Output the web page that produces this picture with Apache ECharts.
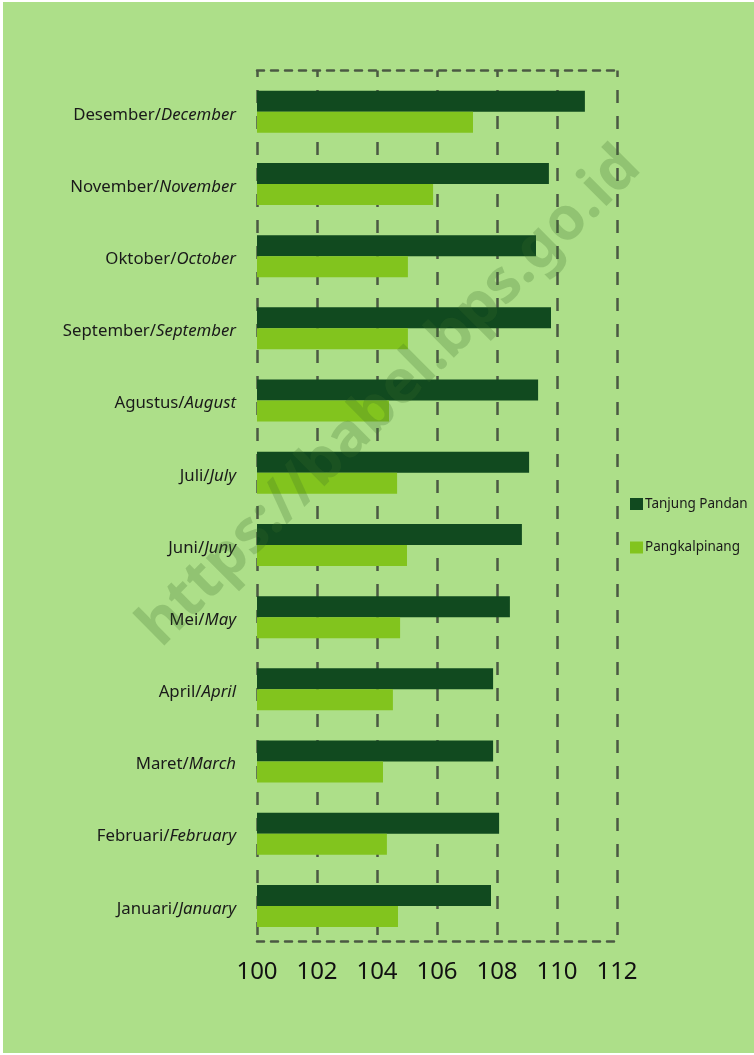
<!DOCTYPE html>
<html><head><meta charset="utf-8">
<script src="https://cdn.jsdelivr.net/npm/echarts@6/dist/echarts.min.js"></script>
<style>
html,body{margin:0;padding:0;background:#fff;}
#bg{position:absolute;left:3px;top:2px;width:751px;height:1051px;background:#addf89;}
#c{position:absolute;left:0;top:0;width:754px;height:1055px;}
</style>
</head><body><div id="bg"></div><div id="c"></div>
<script>
const monthsId = ['Januari','Februari','Maret','April','Mei','Juni','Juli','Agustus','September','Oktober','November','Desember'];
const monthsEn = ['January','February','March','April','May','Juny','July','August','September','October','November','December'];
const tanjungPandan = [107.80,108.07,107.87,107.87,108.43,108.83,109.07,109.37,109.80,109.30,109.73,110.93];
const pangkalpinang = [104.70,104.33,104.20,104.53,104.77,105.00,104.67,104.40,105.03,105.03,105.87,107.20];
const xTicks = [100,102,104,106,108,110,112];
const seriesNames = ['Tanjung Pandan','Pangkalpinang'];
const watermark = 'https://babel.bps.go.id';

const categories = monthsId.map((m,i)=>m+'/'+monthsEn[i]);
const lineCol = '#4b5943';
const xMin = xTicks[0], xMax = xTicks[xTicks.length-1], xStep = xTicks[1]-xTicks[0];

const chart = echarts.init(document.getElementById('c'));
chart.setOption({
  backgroundColor: 'transparent',
  animation: false,
  grid: [
    {left:257, right:137, top:70.5, bottom:114},
    {left:257, right:137, top:75.7, bottom:113}
  ],
  legend: {
    data: seriesNames, orient:'vertical', left:630, top:497,
    itemWidth:13, itemHeight:12, itemGap:29.5, padding:0,
    icon:'rect',
    textStyle:{fontFamily:'Noto Sans', fontSize:13.5, color:'#1a1a1a', padding:[0,0,0,-3]}
  },
  xAxis: [
    {gridIndex:0, type:'value', min:xMin, max:xMax, interval:xStep, position:'bottom',
     axisLine:{show:true, lineStyle:{type:[7,7], color:lineCol, width:2.5}},
     axisTick:{show:false},
     axisLabel:{fontFamily:'Noto Sans', fontSize:24, color:'#111', margin:19},
     splitLine:{show:true, showMinLine:true, showMaxLine:true,
       lineStyle:{type:[13,13], dashOffset:6.5, color:lineCol, width:2.5}}},
    {gridIndex:0, type:'value', min:xMin, max:xMax, interval:xStep, position:'top',
     axisLine:{show:true, lineStyle:{type:[7,7], color:lineCol, width:2.5}},
     axisTick:{show:false}, axisLabel:{show:false}, splitLine:{show:false}},
    {gridIndex:1, type:'value', min:xMin, max:xMax, show:false, splitLine:{show:false}}
  ],
  yAxis: [
    {gridIndex:0, type:'value', show:false, splitLine:{show:false}},
    {gridIndex:1, type:'category', data:categories,
     axisLine:{show:false}, axisTick:{show:false},
     axisLabel:{margin:21, fontFamily:'Noto Sans', fontSize:16.8, color:'#1a1a1a', padding:[6,0,0,0],
       formatter:function(v){const p=v.split('/'); return '{n|'+p[0]+'/}{i|'+p[1]+'}';},
       rich:{n:{fontFamily:'Noto Sans', fontSize:16.8, color:'#1a1a1a'},
             i:{fontFamily:'Noto Sans', fontSize:16.8, fontStyle:'italic', color:'#1a1a1a'}}}}
  ],
  series: [
    {name:seriesNames[0], type:'bar', xAxisIndex:2, yAxisIndex:1, data:tanjungPandan,
     barWidth:21, barGap:'0%', itemStyle:{color:'#114a1f'}},
    {name:seriesNames[1], type:'bar', xAxisIndex:2, yAxisIndex:1, data:pangkalpinang,
     barWidth:21, barGap:'0%', itemStyle:{color:'#82c41e'}}
  ],
  graphic: [
    {type:'text', x:390, y:397, rotation:Math.atan2(497,500), z:100,
     style:{text:watermark, fontFamily:'Noto Sans', fontWeight:'bold', fontSize:60,
       fill:'rgba(60,110,40,0.24)', align:'center', verticalAlign:'middle'}}
  ]
});
</script>
</body></html>
